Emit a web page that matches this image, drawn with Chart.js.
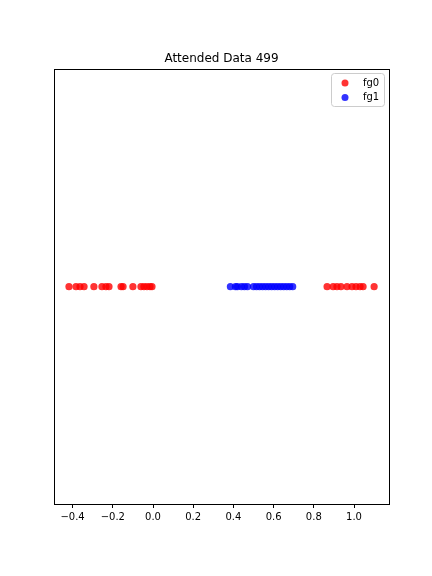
<!DOCTYPE html>
<html><head><meta charset="utf-8">
<script src="https://cdn.jsdelivr.net/npm/chart.js@4"></script>
<style>html,body{margin:0;padding:0;background:#fff}#w{width:432px;height:576px}</style>
</head><body><div id="w"><canvas id="c" width="432" height="576"></canvas></div>
<script>
const titleText = "Attended Data 499";
const seriesNames = ["fg0", "fg1"];
const fg0X = [-0.418, -0.383, -0.363, -0.343, -0.294, -0.254, -0.234, -0.219, -0.159, -0.149, -0.10, -0.06, -0.045, -0.03, -0.015, -0.005,
              0.866, 0.896, 0.915, 0.935, 0.965, 0.99, 1.01, 1.03, 1.045, 1.10];
const fg1X = [0.385, 0.41, 0.42, 0.44, 0.455, 0.47, 0.50, 0.515, 0.53, 0.545, 0.56, 0.575, 0.59, 0.605, 0.62, 0.635, 0.65, 0.665, 0.68, 0.695];
const xTicks = [-0.4, -0.2, 0.0, 0.2, 0.4, 0.6, 0.8, 1.0];
const yValue = 0;

const FONT = "'DejaVu Sans', sans-serif";
const colors = ["rgba(255,0,0,0.8)", "rgba(0,0,255,0.8)"];

const framePlugin = {
  id: 'frame',
  afterDraw(chart) {
    const {ctx, chartArea: a} = chart;
    ctx.save();
    ctx.strokeStyle = '#000'; ctx.lineWidth = 1;
    ctx.strokeRect(Math.round(a.left) + 0.5, Math.round(a.top) + 0.5, Math.round(a.right - a.left), Math.round(a.bottom - a.top));
    // legend
    const bx = 331.5, by = 73.5, bw = 53, bh = 33, r = 3;
    ctx.fillStyle = 'rgba(255,255,255,0.8)';
    ctx.strokeStyle = '#cccccc';
    ctx.beginPath();
    ctx.moveTo(bx + r, by); ctx.lineTo(bx + bw - r, by); ctx.arcTo(bx + bw, by, bx + bw, by + r, r);
    ctx.lineTo(bx + bw, by + bh - r); ctx.arcTo(bx + bw, by + bh, bx + bw - r, by + bh, r);
    ctx.lineTo(bx + r, by + bh); ctx.arcTo(bx, by + bh, bx, by + bh - r, r);
    ctx.lineTo(bx, by + r); ctx.arcTo(bx, by, bx + r, by, r);
    ctx.closePath(); ctx.fill(); ctx.stroke();
    chart.data.datasets.forEach((ds, i) => {
      const cy = 83 + i * 14.5;
      ctx.fillStyle = ds.backgroundColor;
      ctx.beginPath(); ctx.arc(345, cy, 3.5, 0, Math.PI * 2); ctx.fill();
      ctx.fillStyle = '#000';
      ctx.font = "10px " + FONT;
      ctx.textBaseline = 'middle'; ctx.textAlign = 'left';
      ctx.fillText(ds.label, 363, cy);
    });
    ctx.restore();
  }
};

new Chart(document.getElementById('c'), {
  type: 'scatter',
  data: {
    datasets: [
      { label: seriesNames[0], data: fg0X.map(x => ({x, y: yValue})), backgroundColor: colors[0], borderWidth: 0, pointRadius: 3.6 },
      { label: seriesNames[1], data: fg1X.map(x => ({x, y: yValue})), backgroundColor: colors[1], borderWidth: 0, pointRadius: 3.6 }
    ]
  },
  options: {
    responsive: false, animation: false, devicePixelRatio: 1,
    layout: { padding: { left: 54, right: 43, top: 0, bottom: 0 } },
    plugins: {
      legend: { display: false },
      tooltip: { enabled: false },
      title: { display: true, text: titleText, color: '#000', font: { family: FONT, size: 12, weight: 'normal' }, padding: { top: 52, bottom: 3 } }
    },
    scales: {
      x: {
        type: 'linear', min: -0.4925, max: 1.174,
        grid: { display: true, drawOnChartArea: false, drawTicks: true, tickLength: 4, color: '#000', lineWidth: 1 },
        border: { display: false },
        afterBuildTicks: s => { s.ticks = xTicks.map(v => ({value: v})); },
        afterFit: s => { s.height = 72; },
        ticks: { color: '#000', font: { family: FONT, size: 10 }, padding: 3, maxRotation: 0,
                 callback: v => (v < 0 ? '\u2212' : '') + Math.abs(v).toFixed(1) }
      },
      y: {
        type: 'linear', min: -1, max: 1,
        grid: { display: false }, border: { display: false },
        ticks: { display: false },
        afterFit: s => { s.width = 0; }
      }
    }
  },
  plugins: [framePlugin]
});
</script></body></html>
